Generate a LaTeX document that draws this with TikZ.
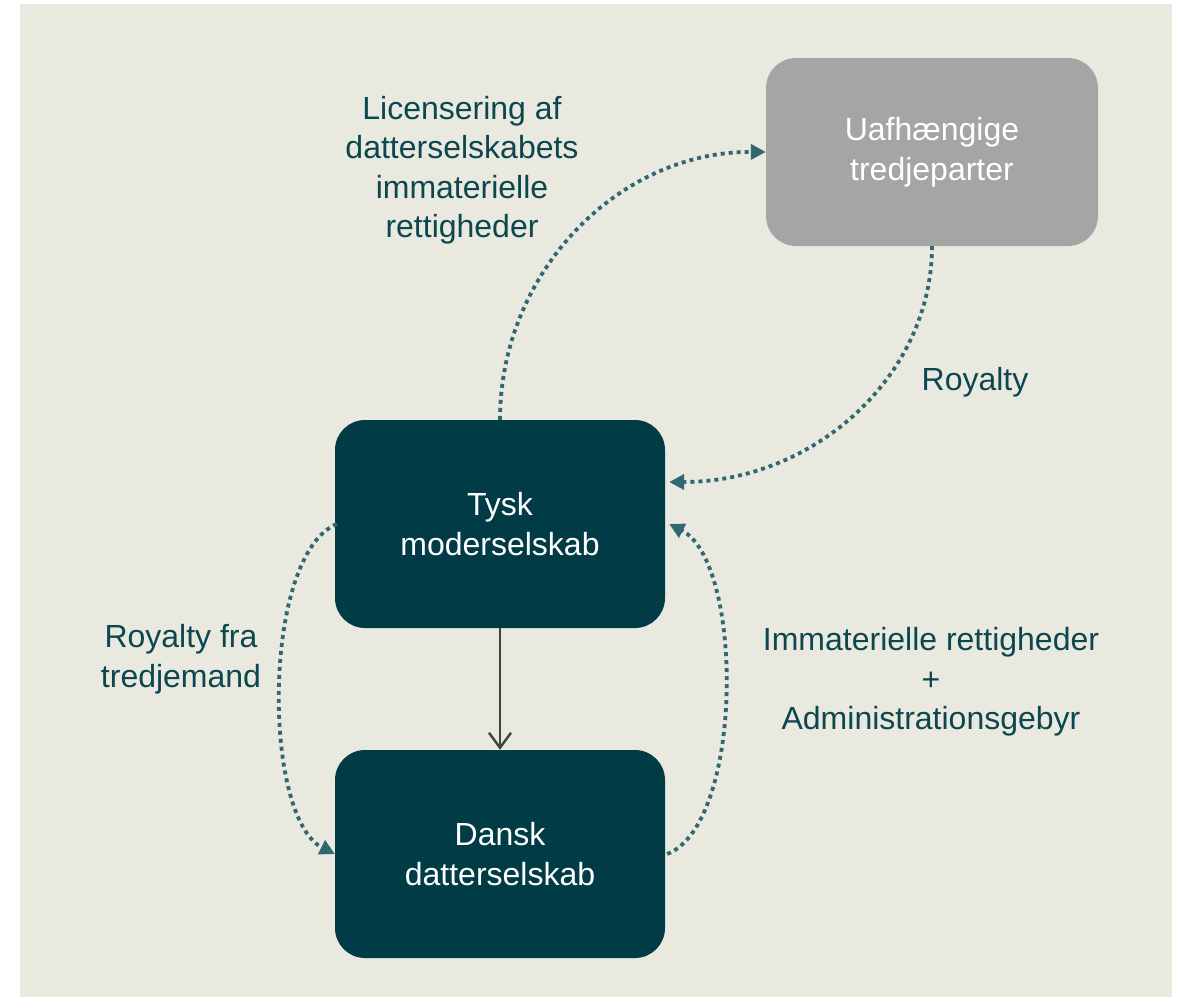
\documentclass[tikz,border=0pt]{standalone}
\usepackage{fontspec}
\setmainfont{Liberation Sans}
\usetikzlibrary{arrows.meta}

\definecolor{panel}{HTML}{EAE9DF}
\definecolor{deepteal}{HTML}{003B46}
\definecolor{boxgrey}{HTML}{A5A5A5}
\definecolor{labelteal}{HTML}{0C4750}
\definecolor{flowteal}{HTML}{2F6870}
\definecolor{stemgrey}{HTML}{3B443F}

\tikzset{
  entity/.style={rectangle, rounded corners=30pt, inner sep=0pt,
    minimum width=330pt, minimum height=208pt, fill=deepteal,
    text=white, align=center, font=\fontsize{32}{39.5}\selectfont},
  outside/.style={entity, fill=boxgrey, minimum width=332pt, minimum height=188pt},
  flowlabel/.style={align=center, text=labelteal, inner sep=0pt,
    font=\fontsize{32}{39.5}\selectfont},
  flow/.style={draw=flowteal, line width=3.8pt, dash pattern=on 4pt off 4pt,
    -{Triangle[length=15pt,width=15pt,fill=flowteal]}},
  stem/.style={draw=stemgrey, line width=2.4pt,
    -{Straight Barb[length=15pt,width=22pt,line width=2.4pt]}}
}

\begin{document}
\begin{tikzpicture}[x=1pt,y=-1pt]
  % page and panel
  \fill[white] (0,0) rectangle (1178,997);
  \useasboundingbox (0,0) rectangle (1178,997);
  \fill[panel] (20,4) rectangle (1172,997);

  % companies
  \node[outside] (third) at (932,152) {Uafhængige\\tredjeparter};
  \node[entity]  (parent) at (500,524) {Tysk\\moderselskab};
  \node[entity]  (sub) at (500,854) {Dansk\\datterselskab};

  % flow labels
  \node[flowlabel] (lic) at (462,170)
    {Licensering af\\datterselskabets\\immaterielle\\rettigheder};
  \node[flowlabel] (roy) at (975,382) {Royalty};
  \node[flowlabel] (royfra) at (181,659) {Royalty fra\\tredjemand};
  \node[flowlabel] (ipfee) at (931,682)
    {Immaterielle rettigheder\\+\\Administrationsgebyr};

  % ownership
  \draw[stem] (parent.south) -- (sub.north);

  % licensing and royalty flows
  \draw[flow] (parent.north) .. controls (500,272) and (619,151) .. (third.west);
  \draw[flow] (third.south) .. controls (932,376) and (814,482)
    .. ([xshift=4pt,yshift=42pt]parent.east);
  \draw[flow] ([xshift=2pt]parent.west) .. controls (262,555) and (262,817)
    .. (sub.west);
  \draw[flow] ([xshift=2pt]sub.east) .. controls (744,824) and (744,562)
    .. ([xshift=4pt]parent.east);
\end{tikzpicture}
\end{document}
